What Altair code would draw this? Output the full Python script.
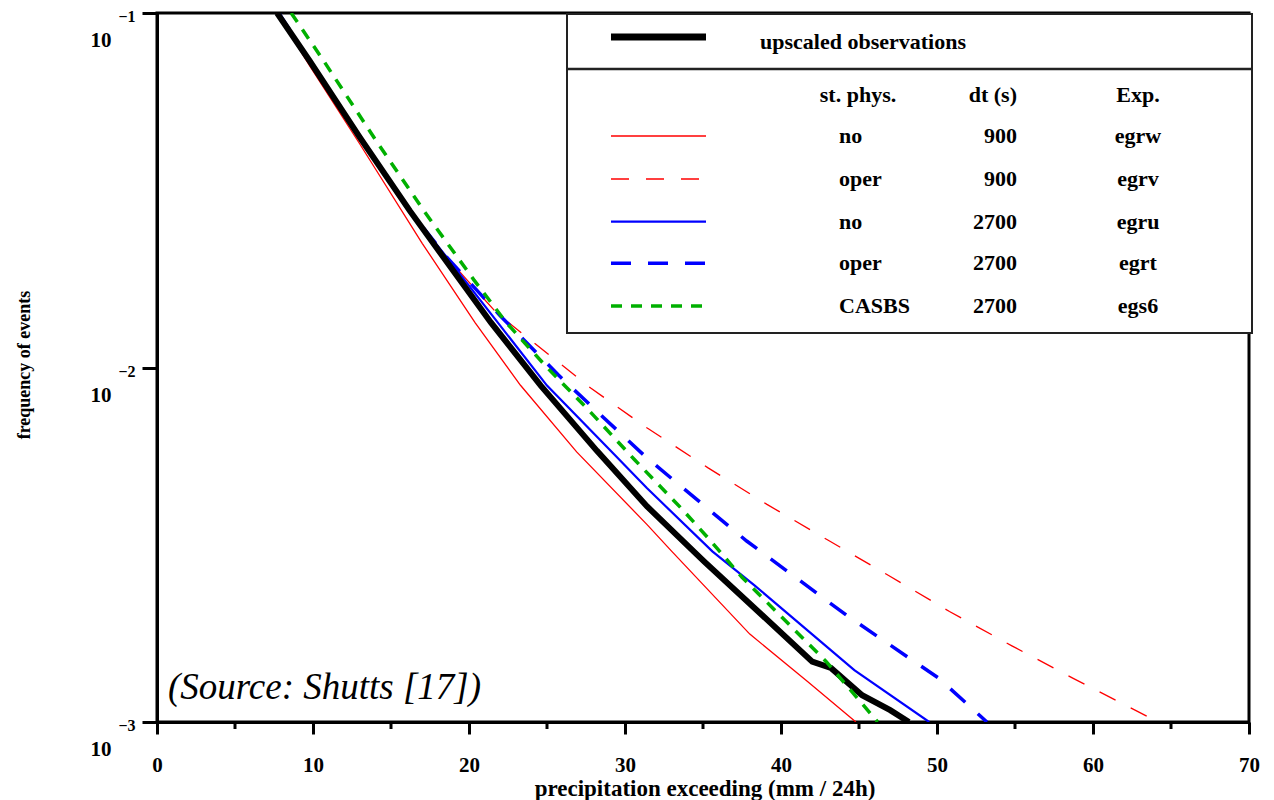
import altair as alt
import pandas as pd

# ---------------- data ----------------
x_ticks = [0, 10, 20, 30, 40, 50, 60, 70]
x_minor = [5, 15, 25, 35, 45, 55, 65]
y_ticks = [0.1, 0.01, 0.001]
y_base = ["10", "10", "10"]
y_exp = ["\u22121", "\u22122", "\u22123"]

obs_x = [7.7, 9.8, 13.0, 16.2, 19.4, 21.4, 24.6, 28.2, 31.4, 34.4, 35.1, 38.8, 42.0, 43.2, 45.2, 47.0, 48.2]
obs_f = [0.1, 0.0731, 0.0446, 0.0277, 0.0177, 0.0134, 0.00889, 0.00582, 0.00406, 0.00303, 0.00283,
         0.00200, 0.00148, 0.00142, 0.00119, 0.00108, 0.00100]

egrw_x = [7.7, 9.8, 13.0, 17.0, 20.4, 23.3, 26.9, 31.4, 33.0, 38.0, 41.7, 44.8]
egrw_f = [0.1, 0.0708, 0.0427, 0.0224, 0.01337, 0.00891, 0.00578, 0.00361, 0.00303, 0.00177, 0.00130, 0.00100]

egrv_x = [7.8, 13.0, 16.2, 18.6, 21.8, 23.9, 27.8, 31.4, 35.3, 39.1, 43.0, 46.9, 50.8, 54.8, 58.7, 63.6]
egrv_f = [0.1, 0.0446, 0.0277, 0.0204, 0.0142, 0.0120, 0.00875, 0.00676, 0.00522, 0.00411, 0.00326,
          0.00259, 0.00205, 0.00164, 0.00133, 0.00103]

egru_x = [7.8, 13.0, 16.2, 18.6, 21.7, 25.0, 29.3, 31.4, 35.6, 38.3, 44.7, 49.5]
egru_f = [0.1, 0.0446, 0.0277, 0.0204, 0.01365, 0.00889, 0.00569, 0.00457, 0.00303, 0.00243, 0.00140, 0.00100]

egrt_x = [7.8, 13.0, 16.2, 18.6, 22.0, 25.7, 28.6, 31.4, 37.8, 44.2, 50.1, 53.2]
egrt_f = [0.1, 0.0446, 0.0277, 0.0204, 0.0140, 0.00955, 0.00724, 0.00556, 0.00324, 0.00200, 0.00133, 0.00100]

egs6_x = [8.6, 10.7, 13.9, 17.1, 20.3, 22.4, 25.0, 27.6, 30.6, 33.6, 35.5, 37.5, 42.9, 46.2]
egs6_f = [0.1, 0.0731, 0.0446, 0.0277, 0.0177, 0.01337, 0.0100, 0.00764, 0.00550, 0.00401, 0.00324,
          0.00256, 0.00148, 0.00100]

exp_names = ["egrw", "egrv", "egru", "egrt", "egs6"]
phys_labels = ["no", "oper", "no", "oper", "CASBS"]
dt_labels = ["900", "900", "2700", "2700", "2700"]

# ---------------- styles ----------------
FONT = "Liberation Serif"
W, H = 1092, 709
RED, BLUE, GREEN = "#ff0000", "#0000ff", "#00b000"

series = {
    "egrv": (egrv_x, egrv_f, RED, 1.3, [18, 17]),
    "egrw": (egrw_x, egrw_f, RED, 1.3, None),
    "egrt": (egrt_x, egrt_f, BLUE, 3.5, [20, 17]),
    "egru": (egru_x, egru_f, BLUE, 2.2, None),
    "obs": (obs_x, obs_f, "black", 6, None),
    "egs6": (egs6_x, egs6_f, GREEN, 3.5, [11, 9]),
}

rows = []
for name, (xs_, fs_, *_rest) in series.items():
    for xv, fv in zip(xs_, fs_):
        rows.append({"series": name, "x": xv, "f": fv})
df = pd.DataFrame(rows)

xscale = alt.Scale(domain=[0, 70], nice=False, zero=False)
yscale = alt.Scale(type="log", domain=[0.001, 0.1], nice=False)

x_axis = alt.Axis(values=x_ticks, format="d", tickSize=12, tickWidth=3, tickColor="black",
                  domainWidth=3, domainColor="black", labelFont=FONT, labelFontSize=21,
                  labelFontWeight="bold", labelColor="black", labelPadding=20, grid=False,
                  title=None, labelFlush=False)
y_axis = alt.Axis(values=y_ticks, tickSize=15, tickWidth=3, tickColor="black", domainWidth=3,
                  domainColor="black", labels=False, grid=False, title=None)

X = dict(scale=xscale, axis=x_axis)
Y = dict(scale=yscale, axis=y_axis)

layers = []
for name, (xs_, fs_, color, width, dash) in series.items():
    kw = dict(color=color, strokeWidth=width, clip=True, strokeCap="butt")
    if dash:
        kw["strokeDash"] = dash
    layers.append(
        alt.Chart(df).transform_filter(alt.datum.series == name).mark_line(**kw).encode(
            x=alt.X("x:Q", **X),
            y=alt.Y("f:Q", **Y),
        )
    )

# minor x ticks
minor_df = pd.DataFrame({"m": x_minor})
layers.append(alt.Chart(minor_df).mark_rule(color="black", strokeWidth=3).encode(
    x=alt.X("m:Q", **X), y=alt.value(H), y2=alt.value(H + 7)))

# y tick labels 10^-n
ydf = pd.DataFrame({"v": y_ticks, "b": y_base, "e": y_exp})
layers.append(alt.Chart(ydf).mark_text(font=FONT, fontWeight="bold", fontSize=16, align="center",
                                       baseline="middle", dy=4, color="black").encode(
    y=alt.Y("v:Q", **Y), x=alt.value(-30), text="e:N"))
layers.append(alt.Chart(ydf).mark_text(font=FONT, fontWeight="bold", fontSize=21, align="center",
                                       baseline="middle", dy=28, color="black").encode(
    y=alt.Y("v:Q", **Y), x=alt.value(-56), text="b:N"))

one = pd.DataFrame({"a": [0]})

def txt(s, x, y, size=22, align="center", weight="bold", style="normal", angle=None, baseline="middle"):
    kw = dict(font=FONT, fontSize=size, fontWeight=weight, fontStyle=style, align=align,
              baseline=baseline, color="black")
    if angle is not None:
        kw["angle"] = angle
    return alt.Chart(one).mark_text(**kw).encode(x=alt.value(x), y=alt.value(y), text=alt.value(s))

# axis titles
layers.append(txt("precipitation exceeding (mm / 24h)", 548, 776, size=23))
layers.append(txt("frequency of events", -132, 352, size=18, angle=270))

# source note
layers.append(txt("(Source: Shutts [17])", 11, 686, size=37, align="left", weight="normal",
                  style="italic", baseline="alphabetic"))

# legend box
layers.append(alt.Chart(one).mark_rect(fill="white", stroke="#222222", strokeWidth=2).encode(
    x=alt.value(410), x2=alt.value(1095), y=alt.value(1), y2=alt.value(320)))
layers.append(alt.Chart(one).mark_rule(color="#222222", strokeWidth=2.5).encode(
    x=alt.value(410), x2=alt.value(1095), y=alt.value(56)))
layers.append(alt.Chart(one).mark_rule(color="black", strokeWidth=7).encode(
    x=alt.value(454), x2=alt.value(549), y=alt.value(24)))
layers.append(txt("upscaled observations", 603, 29, align="left"))
layers.append(txt("st. phys.", 701, 82))
layers.append(txt("dt (s)", 860, 82, align="right"))
layers.append(txt("Exp.", 981, 82))

row_y = [123, 166, 208.7, 250.3, 293]
for i, name in enumerate(exp_names):
    _, _, color, width, dash = series[name]
    kw = dict(color=color, strokeWidth=width, strokeCap="butt")
    if dash:
        kw["strokeDash"] = dash
    layers.append(alt.Chart(one).mark_rule(**kw).encode(
        x=alt.value(454), x2=alt.value(549), y=alt.value(row_y[i])))
    layers.append(txt(phys_labels[i], 682, row_y[i], align="left"))
    layers.append(txt(dt_labels[i], 860, row_y[i], align="right"))
    layers.append(txt(name, 981, row_y[i]))

chart = alt.layer(*layers).properties(
    width=W, height=H,
    autosize=alt.AutoSizeParams(type="none"),
    padding={"left": 149, "top": 5, "right": 17, "bottom": 78},
).configure_view(stroke="black", strokeWidth=3)

chart.save("out.html", embed_options={"renderer": "svg", "actions": False})
